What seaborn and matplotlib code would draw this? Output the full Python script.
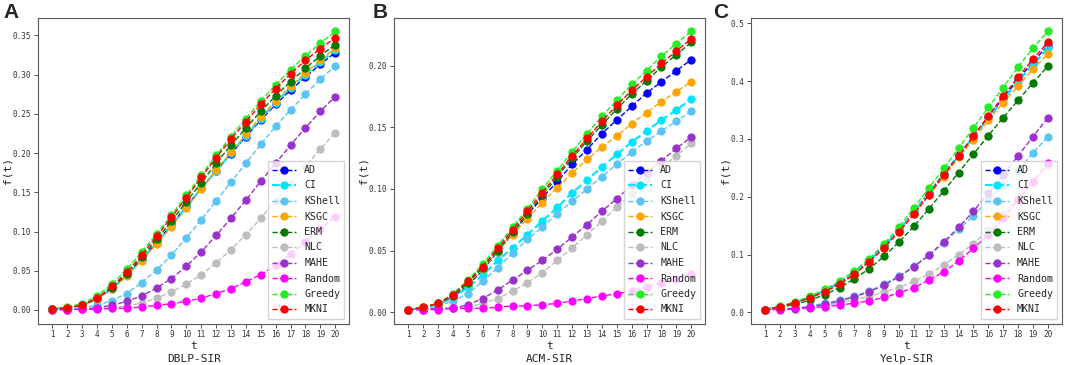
import numpy as np
import pandas as pd
import matplotlib
matplotlib.use("Agg")
import matplotlib.pyplot as plt
import seaborn as sns

t = list(range(1, 21))
methods = ["AD", "CI", "KShell", "KSGC", "ERM", "NLC", "MAHE", "Random", "Greedy", "MKNI"]
colors = ["#0000ff", "#00e5ff", "#5bc4f2", "#ffa500", "#007a00",
          "#bdbdbd", "#9932cc", "#ff00ff", "#22ee22", "#ff0000"]

# DBLP-SIR
dblp = {
    "AD":     [0.001, 0.003, 0.006, 0.014, 0.028, 0.045, 0.065, 0.086, 0.109, 0.132, 0.155, 0.177, 0.199, 0.221, 0.242, 0.262, 0.280, 0.297, 0.313, 0.328],
    "CI":     [0.001, 0.003, 0.006, 0.014, 0.027, 0.044, 0.064, 0.085, 0.108, 0.131, 0.155, 0.177, 0.200, 0.222, 0.244, 0.264, 0.283, 0.300, 0.316, 0.331],
    "KShell": [0.0005, 0.001, 0.003, 0.006, 0.012, 0.021, 0.035, 0.051, 0.070, 0.092, 0.115, 0.139, 0.163, 0.187, 0.211, 0.234, 0.255, 0.275, 0.294, 0.311],
    "KSGC":   [0.001, 0.003, 0.006, 0.014, 0.027, 0.043, 0.063, 0.084, 0.106, 0.130, 0.154, 0.178, 0.201, 0.224, 0.246, 0.266, 0.285, 0.302, 0.318, 0.334],
    "ERM":    [0.001, 0.003, 0.006, 0.015, 0.028, 0.046, 0.067, 0.090, 0.113, 0.138, 0.162, 0.187, 0.210, 0.232, 0.253, 0.273, 0.291, 0.308, 0.324, 0.338],
    "NLC":    [0.0005, 0.0005, 0.001, 0.002, 0.003, 0.005, 0.009, 0.015, 0.023, 0.033, 0.045, 0.060, 0.077, 0.096, 0.117, 0.139, 0.161, 0.183, 0.205, 0.226],
    "MAHE":   [0.0005, 0.0005, 0.001, 0.003, 0.006, 0.011, 0.018, 0.028, 0.040, 0.056, 0.074, 0.095, 0.117, 0.140, 0.164, 0.187, 0.210, 0.232, 0.253, 0.272],
    "Random": [0.0005, 0.0005, 0.001, 0.001, 0.002, 0.002, 0.004, 0.006, 0.008, 0.011, 0.015, 0.021, 0.027, 0.036, 0.045, 0.057, 0.071, 0.087, 0.103, 0.119],
    "Greedy": [0.001, 0.004, 0.008, 0.018, 0.033, 0.052, 0.074, 0.097, 0.121, 0.146, 0.172, 0.197, 0.221, 0.244, 0.266, 0.287, 0.306, 0.324, 0.340, 0.355],
    "MKNI":   [0.001, 0.003, 0.006, 0.015, 0.030, 0.048, 0.070, 0.094, 0.118, 0.143, 0.169, 0.194, 0.218, 0.240, 0.262, 0.282, 0.301, 0.318, 0.333, 0.347],
}

# ACM-SIR
acm = {
    "AD":     [0.002, 0.003, 0.006, 0.012, 0.022, 0.034, 0.049, 0.064, 0.079, 0.093, 0.106, 0.120, 0.132, 0.145, 0.156, 0.167, 0.178, 0.187, 0.196, 0.205],
    "CI":     [0.002, 0.003, 0.006, 0.012, 0.020, 0.030, 0.042, 0.052, 0.063, 0.074, 0.085, 0.097, 0.107, 0.118, 0.128, 0.138, 0.147, 0.156, 0.164, 0.173],
    "KShell": [0.002, 0.003, 0.005, 0.009, 0.015, 0.025, 0.036, 0.048, 0.059, 0.069, 0.080, 0.090, 0.100, 0.110, 0.120, 0.130, 0.139, 0.147, 0.155, 0.163],
    "KSGC":   [0.002, 0.004, 0.007, 0.013, 0.023, 0.035, 0.049, 0.063, 0.076, 0.089, 0.101, 0.113, 0.124, 0.134, 0.143, 0.153, 0.162, 0.171, 0.179, 0.187],
    "ERM":    [0.002, 0.004, 0.007, 0.013, 0.024, 0.036, 0.050, 0.065, 0.080, 0.095, 0.110, 0.125, 0.139, 0.152, 0.165, 0.177, 0.188, 0.199, 0.209, 0.219],
    "NLC":    [0.002, 0.002, 0.003, 0.003, 0.004, 0.007, 0.011, 0.017, 0.024, 0.032, 0.042, 0.052, 0.063, 0.074, 0.085, 0.096, 0.107, 0.117, 0.127, 0.137],
    "MAHE":   [0.002, 0.002, 0.003, 0.003, 0.006, 0.011, 0.018, 0.026, 0.034, 0.042, 0.051, 0.061, 0.071, 0.082, 0.092, 0.103, 0.113, 0.123, 0.133, 0.142],
    "Random": [0.002, 0.002, 0.002, 0.003, 0.003, 0.003, 0.004, 0.005, 0.005, 0.006, 0.007, 0.009, 0.011, 0.013, 0.015, 0.017, 0.020, 0.024, 0.027, 0.031],
    "Greedy": [0.002, 0.004, 0.007, 0.015, 0.026, 0.039, 0.054, 0.069, 0.084, 0.100, 0.115, 0.130, 0.145, 0.159, 0.172, 0.185, 0.196, 0.208, 0.218, 0.228],
    "MKNI":   [0.002, 0.004, 0.007, 0.014, 0.025, 0.037, 0.052, 0.067, 0.082, 0.097, 0.112, 0.127, 0.141, 0.155, 0.168, 0.180, 0.191, 0.202, 0.212, 0.222],
}

# Yelp-SIR
yelp = {
    "AD":     [0.005, 0.010, 0.017, 0.026, 0.037, 0.051, 0.068, 0.090, 0.115, 0.143, 0.174, 0.207, 0.240, 0.272, 0.305, 0.338, 0.371, 0.403, 0.433, 0.462],
    "CI":     [0.005, 0.010, 0.017, 0.026, 0.038, 0.052, 0.070, 0.090, 0.115, 0.142, 0.173, 0.205, 0.238, 0.270, 0.303, 0.336, 0.368, 0.400, 0.428, 0.457],
    "KShell": [0.005, 0.006, 0.007, 0.011, 0.016, 0.021, 0.028, 0.037, 0.049, 0.063, 0.080, 0.099, 0.120, 0.144, 0.167, 0.195, 0.220, 0.245, 0.276, 0.304],
    "KSGC":   [0.005, 0.010, 0.017, 0.025, 0.036, 0.048, 0.066, 0.088, 0.112, 0.140, 0.171, 0.203, 0.235, 0.268, 0.299, 0.332, 0.363, 0.392, 0.421, 0.447],
    "ERM":    [0.005, 0.009, 0.014, 0.021, 0.031, 0.043, 0.058, 0.076, 0.097, 0.122, 0.149, 0.179, 0.210, 0.242, 0.274, 0.306, 0.337, 0.367, 0.397, 0.426],
    "NLC":    [0.005, 0.006, 0.007, 0.009, 0.012, 0.017, 0.022, 0.028, 0.035, 0.043, 0.054, 0.066, 0.082, 0.100, 0.119, 0.143, 0.170, 0.198, 0.227, 0.255],
    "MAHE":   [0.005, 0.005, 0.006, 0.010, 0.014, 0.020, 0.027, 0.036, 0.047, 0.062, 0.079, 0.099, 0.122, 0.147, 0.175, 0.206, 0.238, 0.271, 0.304, 0.337],
    "Random": [0.005, 0.006, 0.007, 0.008, 0.010, 0.013, 0.016, 0.020, 0.026, 0.034, 0.043, 0.056, 0.070, 0.089, 0.111, 0.134, 0.163, 0.195, 0.226, 0.258],
    "Greedy": [0.005, 0.011, 0.018, 0.028, 0.040, 0.054, 0.072, 0.093, 0.119, 0.148, 0.181, 0.215, 0.249, 0.284, 0.319, 0.355, 0.389, 0.425, 0.457, 0.486],
    "MKNI":   [0.005, 0.010, 0.017, 0.025, 0.036, 0.049, 0.066, 0.088, 0.112, 0.140, 0.170, 0.203, 0.238, 0.270, 0.305, 0.340, 0.374, 0.407, 0.438, 0.467],
}

panels = [("A", "DBLP-SIR", dblp), ("B", "ACM-SIR", acm), ("C", "Yelp-SIR", yelp)]

sns.set_style("ticks")
plt.rcParams['font.family'] = ['DejaVu Sans Mono', 'DejaVu Sans']

fig = plt.figure(figsize=(10.65, 3.65), dpi=100)
lefts = [38.3, 394.3, 751]
letter_x = [3, 373, 713]

for (letter, name, data), left, lx in zip(panels, lefts, letter_x):
    ax = fig.add_axes([left / 1065, 41.5 / 365, 311 / 1065, 306 / 365])
    for m, c in zip(methods, colors):
        df = pd.DataFrame({"t": t, "f": data[m]})
        sns.lineplot(data=df, x="t", y="f", ax=ax, color=c, label=m,
                     marker="o", markersize=5.2, markeredgecolor=c,
                     linestyle="--", linewidth=1.5 if m == "CI" else 1)
    ax.set_xticks(t)
    ax.tick_params(labelsize=5.5, length=3, width=0.6, pad=2, colors="0.2")
    for s in ax.spines.values():
        s.set_color("0.35")
        s.set_linewidth(0.8)
    ax.set_xlabel("t\n" + name, fontsize=8, linespacing=1.35, labelpad=1)
    ax.set_ylabel("f(t)", fontsize=8, labelpad=0)
    ax.legend(loc="lower right", fontsize=7.2, handlelength=2.4,
              labelspacing=0.55, framealpha=0.8, edgecolor="0.8", fancybox=False)
    fig.text(lx / 1065, 1 - 13 / 365, letter, fontsize=15,
             fontweight="bold", family="Liberation Sans", va="center")

fig.savefig("out.png", dpi=100)
